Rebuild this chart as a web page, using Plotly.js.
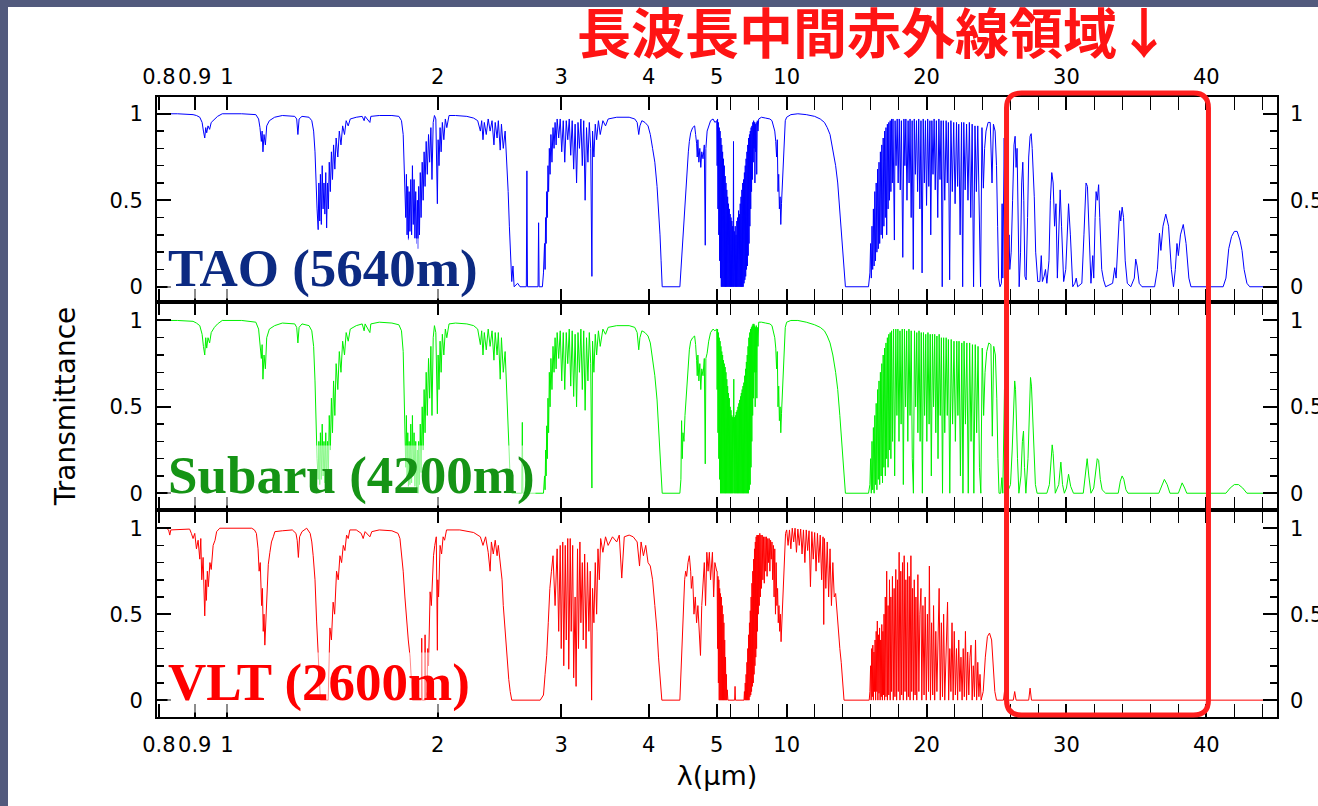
<!DOCTYPE html>
<html><head><meta charset="utf-8">
<script src="https://cdn.plot.ly/plotly-3.0.1.min.js"></script>
<style>
html,body{margin:0;padding:0;background:#525a7d;overflow:hidden;}
#chart{position:absolute;left:8px;top:7px;width:1310px;height:799px;background:#fff;}
</style></head><body><div id="chart"></div>
<script>
// ---- data: [wavelength (um), transmittance] ----
const tao = [[0.795,1.0],[0.85,1.0],[0.895,0.995],[0.905,0.99],[0.915,0.98],[0.922,0.95],[0.926,0.9],[0.93,0.86],[0.933,0.92],[0.936,0.89],[0.94,0.93],[0.945,0.91],[0.95,0.95],[0.96,0.97],[0.97,0.985],[0.985,1.0],[1.05,1.0],[1.10,0.995],[1.11,0.97],[1.115,0.92],[1.12,0.84],[1.123,0.9],[1.126,0.78],[1.13,0.88],[1.135,0.82],[1.14,0.93],[1.15,0.96],[1.17,0.98],[1.2,0.99],[1.25,0.985],[1.258,0.97],[1.263,0.88],[1.268,0.97],[1.28,0.985],[1.31,0.98],[1.322,0.96],[1.33,0.9],[1.336,0.78],[1.34,0.6],[1.345,0.45],[1.35,0.33],[1.353,0.6],[1.357,0.38],[1.36,0.65],[1.364,0.36],[1.368,0.7],[1.372,0.45],[1.376,0.6],[1.38,0.42],[1.384,0.66],[1.388,0.34],[1.392,0.6],[1.396,0.45],[1.4,0.72],[1.405,0.55],[1.41,0.78],[1.415,0.62],[1.42,0.82],[1.426,0.68],[1.432,0.86],[1.44,0.75],[1.447,0.9],[1.455,0.82],[1.463,0.93],[1.472,0.88],[1.48,0.96],[1.49,0.93],[1.5,0.97],[1.53,0.98],[1.56,0.985],[1.57,0.96],[1.575,0.985],[1.6,0.95],[1.605,0.985],[1.65,0.99],[1.72,0.99],[1.76,0.985],[1.775,0.96],[1.785,0.88],[1.79,0.75],[1.795,0.55],[1.8,0.4],[1.804,0.65],[1.808,0.3],[1.812,0.58],[1.816,0.27],[1.82,0.55],[1.825,0.32],[1.83,0.62],[1.835,0.3],[1.84,0.7],[1.845,0.36],[1.85,0.62],[1.855,0.28],[1.86,0.55],[1.865,0.25],[1.87,0.5],[1.874,0.22],[1.878,0.58],[1.883,0.3],[1.888,0.66],[1.893,0.4],[1.9,0.72],[1.906,0.5],[1.912,0.78],[1.918,0.58],[1.925,0.84],[1.932,0.65],[1.94,0.88],[1.947,0.72],[1.955,0.92],[1.962,0.62],[1.97,0.95],[1.978,0.99],[1.987,0.97],[1.992,0.75],[1.997,0.48],[2.002,0.85],[2.008,0.7],[2.015,0.92],[2.022,0.78],[2.03,0.95],[2.04,0.85],[2.05,0.97],[2.06,0.92],[2.075,0.99],[2.12,0.99],[2.2,0.985],[2.25,0.975],[2.28,0.96],[2.3,0.9],[2.31,0.96],[2.32,0.85],[2.33,0.95],[2.345,0.88],[2.36,0.97],[2.375,0.9],[2.39,0.96],[2.405,0.82],[2.415,0.95],[2.43,0.86],[2.44,0.96],[2.455,0.79],[2.465,0.94],[2.48,0.8],[2.495,0.9],[2.51,0.72],[2.52,0.55],[2.53,0.35],[2.54,0.15],[2.55,0.03],[2.56,0.12],[2.57,0.0],[2.6,0.02],[2.62,0.0],[2.675,0.0],[2.68,0.67],[2.685,0.0],[2.78,0.0],[2.785,0.37],[2.79,0.0],[2.82,0.0],[2.83,0.08],[2.84,0.25],[2.845,0.1],[2.85,0.4],[2.855,0.25],[2.86,0.55],[2.866,0.4],[2.872,0.7],[2.878,0.55],[2.885,0.8],[2.892,0.65],[2.9,0.88],[2.91,0.72],[2.92,0.92],[2.93,0.8],[2.94,0.95],[2.95,0.82],[2.96,0.97],[2.975,0.86],[2.99,0.97],[3.005,0.78],[3.02,0.96],[3.035,0.72],[3.05,0.96],[3.065,0.85],[3.08,0.97],[3.095,0.76],[3.11,0.96],[3.125,0.68],[3.14,0.94],[3.155,0.6],[3.17,0.95],[3.185,0.8],[3.2,0.97],[3.215,0.7],[3.23,0.96],[3.245,0.5],[3.26,0.92],[3.275,0.72],[3.29,0.95],[3.305,0.8],[3.318,0.06],[3.325,0.9],[3.34,0.75],[3.355,0.94],[3.37,0.85],[3.39,0.96],[3.41,0.88],[3.44,0.96],[3.47,0.93],[3.5,0.97],[3.6,0.98],[3.75,0.98],[3.82,0.97],[3.85,0.95],[3.87,0.88],[3.885,0.93],[3.91,0.96],[3.95,0.95],[3.99,0.93],[4.02,0.88],[4.05,0.8],[4.08,0.72],[4.11,0.58],[4.13,0.45],[4.15,0.3],[4.165,0.15],[4.18,0.0],[4.43,0.0],[4.445,0.1],[4.455,0.17],[4.47,0.26],[4.485,0.33],[4.5,0.45],[4.51,0.54],[4.525,0.62],[4.54,0.72],[4.555,0.78],[4.57,0.84],[4.59,0.89],[4.62,0.92],[4.65,0.93],[4.665,0.88],[4.68,0.83],[4.69,0.75],[4.7,0.85],[4.715,0.72],[4.73,0.8],[4.745,0.69],[4.76,0.78],[4.78,0.74],[4.8,0.82],[4.815,0.24],[4.825,0.8],[4.845,0.9],[4.87,0.93],[4.9,0.96],[4.94,0.97],[4.97,0.95],[5.0,0.96],
[5.03,0.7],[5.06,0.97],[5.09,0.45],[5.12,0.95],[5.15,0.3],[5.18,0.92],[5.21,0.15],[5.24,0.9],[5.27,0.05],[5.3,0.86],[5.33,0.0],[5.36,0.82],[5.39,0.0],[5.42,0.78],[5.45,0.0],[5.48,0.74],[5.51,0.0],[5.54,0.7],[5.57,0.0],[5.6,0.64],[5.63,0.0],[5.66,0.6],[5.69,0.0],[5.72,0.56],[5.75,0.0],[5.78,0.52],[5.81,0.0],[5.84,0.48],[5.87,0.0],[5.9,0.45],[5.93,0.0],[5.96,0.42],[5.99,0.0],[6.02,0.4],[6.05,0.0],[6.08,0.38],[6.11,0.0],[6.14,0.35],[6.17,0.0],[6.2,0.84],[6.22,0.0],[6.26,0.32],[6.29,0.0],[6.32,0.35],[6.35,0.0],[6.38,0.3],[6.41,0.0],[6.44,0.38],[6.47,0.0],[6.5,0.4],[6.53,0.0],[6.56,0.44],[6.59,0.0],[6.62,0.42],[6.65,0.0],[6.68,0.48],[6.71,0.0],[6.74,0.52],[6.77,0.0],[6.8,0.56],[6.83,0.0],[6.86,0.6],[6.89,0.0],[6.92,0.62],[6.95,0.02],[6.98,0.66],[7.01,0.04],[7.04,0.7],[7.07,0.06],[7.1,0.74],[7.13,0.1],[7.16,0.78],[7.19,0.12],[7.22,0.82],[7.25,0.18],[7.28,0.86],[7.31,0.25],[7.34,0.88],[7.37,0.35],[7.4,0.9],[7.43,0.45],[7.46,0.92],[7.49,0.55],[7.52,0.93],[7.55,0.62],[7.58,0.95],[7.61,0.72],[7.64,0.96],[7.67,0.8],[7.7,0.95],[7.73,0.6],[7.76,0.94],[7.79,0.78],[7.82,0.95],[7.86,0.65],[7.9,0.96],[7.95,0.9],[8.0,0.97],[8.2,0.98],[8.5,0.975],[8.8,0.97],[8.95,0.96],[9.05,0.93],[9.15,0.9],[9.22,0.84],[9.28,0.75],[9.33,0.85],[9.38,0.55],[9.43,0.65],[9.48,0.45],[9.53,0.52],[9.58,0.36],[9.63,0.48],[9.68,0.58],[9.73,0.7],[9.78,0.82],[9.84,0.9],[9.9,0.96],[10.0,0.98],[10.3,0.995],[10.8,1.0],[11.4,0.995],[12.0,0.985],[12.4,0.97],[12.7,0.95],[12.9,0.92],[13.1,0.88],[13.3,0.8],[13.5,0.7],[13.65,0.6],[13.8,0.45],[13.95,0.3],[14.1,0.1],[14.2,0.0],[15.85,0.0],
[15.95,0.08],[16.0,0.25],[16.05,0.05],[16.1,0.35],[16.15,0.1],[16.2,0.45],[16.25,0.12],[16.3,0.55],[16.35,0.15],[16.4,0.6],[16.45,0.2],[16.5,0.68],[16.55,0.22],[16.6,0.72],[16.65,0.25],[16.7,0.78],[16.75,0.3],[16.8,0.82],[16.85,0.28],[16.9,0.86],[16.95,0.35],[17.0,0.9],[17.05,0.4],[17.1,0.92],[17.15,0.3],[17.2,0.94],[17.25,0.45],[17.3,0.95],[17.35,0.5],[17.4,0.96],[17.45,0.55],[17.5,0.97],[17.55,0.6],[17.6,0.97],[17.7,0.27],[17.75,0.96],[17.82,0.7],[17.9,0.97],[17.97,0.6],[18.05,0.97],[18.12,0.56],[18.2,0.96],[18.3,0.17],[18.38,0.97],[18.45,0.7],[18.52,0.97],[18.6,0.5],[18.68,0.96],[18.75,0.6],[18.82,0.97],[18.9,0.4],[18.97,0.96],[19.05,0.1],[19.12,0.97],[19.2,0.65],[19.28,0.96],[19.36,0.55],[19.44,0.97],[19.52,0.45],[19.6,0.96],[19.68,0.08],[19.76,0.97],[19.84,0.6],[19.92,0.96],[20.0,0.47],[20.08,0.97],[20.16,0.58],[20.24,0.96],[20.3,0.3],[20.38,0.96],[20.46,0.65],[20.54,0.97],[20.62,0.56],[20.7,0.96],[20.8,0.4],[20.88,0.97],[20.96,0.62],[21.04,0.96],[21.12,0.0],[21.2,0.96],[21.3,0.5],[21.4,0.96],[21.48,0.6],[21.56,0.95],[21.65,0.04],[21.74,0.96],[21.84,0.55],[21.94,0.95],[22.04,0.48],[22.14,0.95],[22.22,0.58],[22.3,0.94],[22.4,0.3],[22.5,0.95],[22.58,0.0],[22.66,0.95],[22.76,0.56],[22.86,0.94],[22.96,0.5],[23.06,0.95],[23.16,0.4],[23.26,0.94],[23.36,0.0],[23.46,0.93],[23.56,0.55],[23.66,0.93],[23.76,0.3],[23.86,0.0],[23.96,0.92],[24.06,0.57],[24.15,0.8],[24.25,0.9],[24.4,0.95],[24.55,0.95],[24.68,0.6],[24.78,0.94],[24.9,0.9],[25.0,0.7],[25.08,0.35],[25.15,0.05],[25.25,0.0],
[25.35,0.02],[25.4,0.48],[25.45,0.05],[25.55,0.86],[25.6,0.4],[25.65,0.1],[25.75,0.0],[25.85,0.15],[25.9,0.3],[25.95,0.1],[26.05,0.2],[26.15,0.5],[26.25,0.82],[26.33,0.87],[26.4,0.69],[26.47,0.8],[26.55,0.3],[26.62,0.0],[26.72,0.2],[26.8,0.6],[26.88,0.72],[26.95,0.5],[27.03,0.06],[27.12,0.04],[27.22,0.4],[27.3,0.75],[27.4,0.87],[27.48,0.885],[27.55,0.8],[27.62,0.69],[27.7,0.52],[27.8,0.2],[27.95,0.03],[28.1,0.03],[28.2,0.18],[28.28,0.03],[28.4,0.06],[28.5,0.1],[28.6,0.02],[28.75,0.15],[28.85,0.5],[28.95,0.66],[29.05,0.6],[29.15,0.35],[29.25,0.48],[29.35,0.05],[29.45,0.3],[29.55,0.56],[29.65,0.35],[29.8,0.03],[29.95,0.1],[30.05,0.35],[30.15,0.48],[30.28,0.3],[30.45,0.0],[30.6,0.02],[30.7,0.05],[30.8,0.0],[31.1,0.02],[31.25,0.3],[31.4,0.6],[31.5,0.58],[31.62,0.3],[31.75,0.02],[31.88,0.18],[31.95,0.05],[32.05,0.4],[32.12,0.55],[32.2,0.5],[32.3,0.59],[32.38,0.4],[32.45,0.18],[32.52,0.1],[32.65,0.04],[32.8,0.0],[33.3,0.02],[33.45,0.11],[33.55,0.05],[33.7,0.3],[33.8,0.44],[33.88,0.38],[33.98,0.46],[34.08,0.4],[34.2,0.15],[34.35,0.02],[34.6,0.0],[34.85,0.05],[34.95,0.16],[35.05,0.12],[35.2,0.02],[35.4,0.0],[36.3,0.0],[36.5,0.1],[36.65,0.31],[36.75,0.21],[36.9,0.35],[37.1,0.42],[37.3,0.35],[37.5,0.1],[37.65,0.0],[37.78,0.1],[37.9,0.25],[38.0,0.18],[38.15,0.3],[38.35,0.36],[38.55,0.25],[38.75,0.05],[38.9,0.0],[41.2,0.0],[41.4,0.05],[41.6,0.22],[41.8,0.29],[42.0,0.32],[42.2,0.32],[42.4,0.27],[42.55,0.21],[42.7,0.1],[42.9,0.02],[43.1,0.0],[45.1,0.0]];

const subaru = [[0.795,1.0],[0.85,1.0],[0.895,0.995],[0.905,0.985],[0.915,0.97],[0.922,0.92],[0.926,0.85],[0.93,0.8],[0.933,0.9],[0.936,0.84],[0.94,0.9],[0.945,0.87],[0.95,0.93],[0.96,0.96],[0.97,0.98],[0.985,1.0],[1.05,1.0],[1.10,0.99],[1.11,0.95],[1.115,0.88],[1.12,0.78],[1.123,0.86],[1.126,0.66],[1.13,0.8],[1.135,0.72],[1.14,0.9],[1.15,0.95],[1.17,0.97],[1.2,0.985],[1.25,0.98],[1.258,0.96],[1.263,0.87],[1.268,0.96],[1.28,0.98],[1.31,0.97],[1.322,0.94],[1.33,0.85],[1.336,0.65],[1.34,0.4],[1.345,0.2],[1.35,0.08],[1.353,0.3],[1.357,0.05],[1.36,0.35],[1.364,0.08],[1.368,0.4],[1.372,0.1],[1.376,0.3],[1.38,0.06],[1.384,0.35],[1.388,0.05],[1.392,0.3],[1.396,0.12],[1.4,0.45],[1.405,0.25],[1.41,0.55],[1.415,0.35],[1.42,0.65],[1.426,0.45],[1.432,0.75],[1.44,0.6],[1.447,0.82],[1.455,0.7],[1.463,0.88],[1.472,0.8],[1.48,0.93],[1.49,0.88],[1.5,0.95],[1.53,0.97],[1.56,0.98],[1.57,0.94],[1.575,0.98],[1.6,0.93],[1.605,0.98],[1.65,0.99],[1.72,0.985],[1.76,0.975],[1.775,0.94],[1.785,0.82],[1.79,0.6],[1.795,0.35],[1.8,0.15],[1.804,0.45],[1.808,0.08],[1.812,0.35],[1.816,0.04],[1.82,0.3],[1.825,0.05],[1.83,0.4],[1.835,0.06],[1.84,0.45],[1.845,0.1],[1.85,0.35],[1.855,0.04],[1.86,0.3],[1.865,0.02],[1.87,0.25],[1.874,0.0],[1.878,0.3],[1.883,0.05],[1.888,0.4],[1.893,0.12],[1.9,0.5],[1.906,0.25],[1.912,0.6],[1.918,0.35],[1.925,0.7],[1.932,0.45],[1.94,0.78],[1.947,0.55],[1.955,0.85],[1.962,0.45],[1.97,0.9],[1.978,0.97],[1.987,0.93],[1.992,0.65],[1.997,0.46],[2.002,0.8],[2.008,0.6],[2.015,0.88],[2.022,0.7],[2.03,0.92],[2.04,0.8],[2.05,0.95],[2.06,0.9],[2.075,0.98],[2.12,0.985],[2.2,0.98],[2.25,0.97],[2.28,0.95],[2.3,0.86],[2.31,0.94],[2.32,0.8],[2.33,0.93],[2.345,0.83],[2.36,0.95],[2.375,0.85],[2.39,0.94],[2.405,0.77],[2.415,0.93],[2.43,0.8],[2.44,0.93],[2.455,0.66],[2.465,0.9],[2.48,0.7],[2.495,0.82],[2.51,0.55],[2.52,0.35],[2.53,0.15],[2.54,0.03],[2.55,0.0],[2.635,0.0],[2.64,0.41],[2.645,0.0],[2.83,0.0],[2.84,0.1],[2.845,0.02],[2.85,0.25],[2.855,0.1],[2.86,0.39],[2.866,0.2],[2.872,0.55],[2.878,0.35],[2.885,0.7],[2.892,0.5],[2.9,0.78],[2.91,0.6],[2.92,0.85],[2.93,0.7],[2.94,0.9],[2.95,0.72],[2.96,0.93],[2.975,0.78],[2.99,0.94],[3.005,0.65],[3.02,0.93],[3.035,0.6],[3.05,0.93],[3.065,0.75],[3.08,0.95],[3.095,0.62],[3.11,0.94],[3.125,0.56],[3.14,0.92],[3.155,0.5],[3.17,0.93],[3.185,0.7],[3.2,0.95],[3.215,0.6],[3.23,0.94],[3.245,0.48],[3.26,0.9],[3.275,0.65],[3.29,0.93],[3.305,0.75],[3.318,0.03],[3.325,0.88],[3.34,0.7],[3.355,0.92],[3.37,0.8],[3.39,0.94],[3.41,0.85],[3.44,0.95],[3.47,0.92],[3.5,0.96],[3.6,0.97],[3.75,0.97],[3.82,0.96],[3.85,0.93],[3.87,0.83],[3.885,0.9],[3.91,0.94],[3.95,0.93],[3.99,0.91],[4.02,0.87],[4.05,0.78],[4.08,0.68],[4.11,0.54],[4.13,0.4],[4.15,0.25],[4.165,0.1],[4.18,0.0],[4.43,0.0],[4.445,0.08],[4.455,0.42],[4.465,0.2],[4.475,0.35],[4.49,0.3],[4.505,0.45],[4.52,0.55],[4.535,0.65],[4.55,0.75],[4.57,0.83],[4.59,0.88],[4.62,0.9],[4.65,0.91],[4.665,0.86],[4.68,0.77],[4.69,0.68],[4.7,0.8],[4.715,0.65],[4.73,0.75],[4.745,0.6],[4.76,0.72],[4.78,0.68],[4.8,0.78],[4.815,0.17],[4.825,0.78],[4.845,0.81],[4.87,0.88],[4.9,0.93],[4.94,0.95],[4.97,0.94],[5.0,0.95],
[5.03,0.6],[5.06,0.95],[5.09,0.35],[5.12,0.93],[5.15,0.2],[5.18,0.9],[5.21,0.08],[5.24,0.88],[5.27,0.0],[5.3,0.85],[5.33,0.0],[5.36,0.82],[5.39,0.0],[5.42,0.8],[5.45,0.0],[5.48,0.77],[5.51,0.0],[5.54,0.75],[5.57,0.0],[5.6,0.73],[5.63,0.0],[5.66,0.7],[5.69,0.0],[5.72,0.66],[5.75,0.0],[5.78,0.62],[5.81,0.0],[5.84,0.58],[5.87,0.0],[5.9,0.55],[5.93,0.0],[5.96,0.5],[5.99,0.0],[6.02,0.48],[6.05,0.0],[6.08,0.45],[6.11,0.0],[6.14,0.44],[6.17,0.0],[6.22,0.66],[6.25,0.0],[6.28,0.44],[6.31,0.0],[6.34,0.45],[6.37,0.0],[6.4,0.47],[6.43,0.0],[6.46,0.48],[6.49,0.0],[6.52,0.5],[6.55,0.0],[6.58,0.52],[6.61,0.0],[6.64,0.54],[6.67,0.0],[6.7,0.56],[6.73,0.0],[6.76,0.58],[6.79,0.0],[6.82,0.6],[6.85,0.0],[6.88,0.62],[6.91,0.0],[6.94,0.64],[6.97,0.0],[7.0,0.68],[7.03,0.0],[7.06,0.72],[7.09,0.0],[7.12,0.76],[7.15,0.0],[7.18,0.8],[7.21,0.0],[7.24,0.85],[7.27,0.0],[7.3,0.9],[7.33,0.02],[7.36,0.93],[7.39,0.05],[7.42,0.95],[7.45,0.15],[7.48,0.96],[7.51,0.3],[7.54,0.97],[7.57,0.45],[7.6,0.98],[7.63,0.55],[7.66,0.98],[7.69,0.7],[7.72,0.97],[7.75,0.5],[7.78,0.96],[7.81,0.7],[7.84,0.97],[7.87,0.55],[7.9,0.96],[7.95,0.85],[8.0,0.99],[8.2,0.99],[8.5,0.985],[8.8,0.98],[8.95,0.97],[9.05,0.94],[9.15,0.9],[9.22,0.84],[9.28,0.72],[9.33,0.82],[9.38,0.5],[9.43,0.62],[9.48,0.42],[9.53,0.5],[9.58,0.35],[9.63,0.46],[9.68,0.56],[9.73,0.68],[9.78,0.8],[9.84,0.9],[9.9,0.96],[10.0,0.99],[10.3,1.0],[10.8,1.0],[11.4,0.99],[12.0,0.975],[12.4,0.96],[12.7,0.94],[12.9,0.91],[13.1,0.87],[13.3,0.8],[13.5,0.7],[13.65,0.6],[13.8,0.45],[13.95,0.3],[14.1,0.1],[14.2,0.0],[15.85,0.0],
[15.95,0.05],[16.0,0.2],[16.05,0.0],[16.1,0.3],[16.15,0.02],[16.2,0.38],[16.25,0.0],[16.3,0.45],[16.35,0.05],[16.4,0.52],[16.45,0.02],[16.5,0.6],[16.55,0.08],[16.6,0.65],[16.65,0.05],[16.7,0.7],[16.75,0.1],[16.8,0.75],[16.85,0.06],[16.9,0.8],[16.95,0.15],[17.0,0.84],[17.05,0.1],[17.1,0.87],[17.15,0.2],[17.2,0.9],[17.25,0.15],[17.3,0.92],[17.35,0.25],[17.4,0.93],[17.45,0.2],[17.5,0.94],[17.57,0.3],[17.64,0.95],[17.72,0.1],[17.8,0.95],[17.88,0.45],[17.95,0.95],[18.03,0.3],[18.1,0.94],[18.18,0.4],[18.26,0.95],[18.34,0.05],[18.42,0.95],[18.5,0.5],[18.58,0.94],[18.66,0.3],[18.74,0.95],[18.82,0.45],[18.9,0.94],[18.98,0.2],[19.06,0.0],[19.14,0.94],[19.22,0.5],[19.3,0.93],[19.38,0.35],[19.46,0.94],[19.54,0.3],[19.62,0.93],[19.7,0.0],[19.78,0.93],[19.86,0.45],[19.94,0.92],[20.02,0.3],[20.1,0.93],[20.18,0.4],[20.26,0.92],[20.34,0.1],[20.42,0.92],[20.5,0.5],[20.58,0.92],[20.66,0.35],[20.74,0.91],[20.82,0.2],[20.9,0.92],[20.98,0.45],[21.06,0.9],[21.14,0.0],[21.22,0.9],[21.3,0.35],[21.4,0.9],[21.48,0.45],[21.56,0.89],[21.66,0.0],[21.76,0.89],[21.86,0.4],[21.96,0.88],[22.06,0.3],[22.16,0.88],[22.24,0.45],[22.32,0.88],[22.42,0.1],[22.52,0.87],[22.6,0.0],[22.68,0.88],[22.78,0.4],[22.88,0.87],[22.98,0.0],[23.08,0.87],[23.18,0.3],[23.28,0.86],[23.38,0.0],[23.48,0.86],[23.58,0.35],[23.68,0.85],[23.78,0.15],[23.88,0.0],[23.98,0.84],[24.08,0.45],[24.18,0.7],[24.3,0.82],[24.45,0.87],[24.6,0.86],[24.7,0.33],[24.8,0.85],[24.92,0.8],[25.02,0.55],[25.1,0.2],[25.18,0.0],
[25.3,0.0],[25.38,0.09],[25.45,0.0],[25.52,0.5],[25.57,0.6],[25.62,0.3],[25.68,0.0],[25.85,0.02],[26.0,0.05],[26.12,0.25],[26.22,0.5],[26.3,0.65],[26.36,0.6],[26.42,0.39],[26.5,0.2],[26.6,0.0],[26.75,0.1],[26.85,0.3],[26.93,0.36],[27.0,0.15],[27.1,0.0],[27.25,0.2],[27.35,0.55],[27.43,0.67],[27.5,0.62],[27.58,0.48],[27.66,0.3],[27.78,0.05],[27.9,0.0],[28.6,0.0],[28.78,0.05],[28.9,0.2],[28.98,0.28],[29.05,0.23],[29.12,0.09],[29.2,0.0],[29.45,0.05],[29.6,0.18],[29.72,0.05],[29.85,0.0],[30.0,0.03],[30.15,0.11],[30.3,0.04],[30.5,0.0],[31.2,0.0],[31.35,0.12],[31.48,0.2],[31.6,0.1],[31.75,0.0],[31.95,0.03],[32.1,0.15],[32.2,0.2],[32.3,0.19],[32.42,0.08],[32.55,0.02],[32.8,0.0],[33.7,0.0],[33.85,0.07],[33.98,0.1],[34.1,0.08],[34.25,0.02],[34.4,0.0],[36.6,0.0],[36.8,0.04],[37.0,0.08],[37.2,0.05],[37.4,0.0],[38.0,0.0],[38.15,0.03],[38.27,0.06],[38.45,0.03],[38.6,0.0],[41.4,0.0],[41.7,0.03],[42.0,0.05],[42.3,0.05],[42.6,0.03],[42.9,0.0],[45.1,0.0]];

const vlt = [[0.795,1.0],[0.82,1.0],[0.826,0.99],[0.829,0.96],[0.832,0.99],[0.885,0.995],[0.89,0.97],[0.895,0.94],[0.9,0.97],[0.905,0.88],[0.91,0.93],[0.915,0.82],[0.918,0.94],[0.921,0.7],[0.925,0.83],[0.928,0.6],[0.93,0.49],[0.933,0.7],[0.935,0.58],[0.938,0.75],[0.941,0.66],[0.946,0.8],[0.95,0.76],[0.956,0.9],[0.962,0.93],[0.967,0.98],[0.977,1.0],[1.085,1.0],[1.095,0.99],[1.102,0.97],[1.108,0.88],[1.112,0.75],[1.116,0.8],[1.121,0.55],[1.124,0.65],[1.127,0.4],[1.13,0.5],[1.133,0.32],[1.136,0.45],[1.139,0.6],[1.142,0.7],[1.146,0.79],[1.152,0.86],[1.158,0.92],[1.165,0.95],[1.171,0.98],[1.2,0.985],[1.24,0.99],[1.255,0.97],[1.26,0.93],[1.265,0.83],[1.27,0.95],[1.28,0.98],[1.3,1.0],[1.315,0.97],[1.322,0.92],[1.328,0.84],[1.336,0.7],[1.343,0.46],[1.35,0.26],[1.355,0.05],[1.36,0.0],[1.395,0.0],[1.4,0.25],[1.403,0.42],[1.41,0.35],[1.418,0.57],[1.425,0.5],[1.434,0.75],[1.442,0.7],[1.45,0.84],[1.458,0.8],[1.466,0.9],[1.474,0.87],[1.482,0.96],[1.49,0.94],[1.498,0.99],[1.53,0.99],[1.555,0.97],[1.565,0.94],[1.575,0.98],[1.6,0.95],[1.61,0.98],[1.65,0.99],[1.72,0.985],[1.755,0.97],[1.766,0.94],[1.775,0.85],[1.785,0.75],[1.795,0.6],[1.804,0.46],[1.815,0.35],[1.826,0.25],[1.835,0.1],[1.84,0.0],[1.895,0.0],[1.897,0.36],[1.9,0.0],[1.916,0.0],[1.918,0.38],[1.921,0.0],[1.93,0.05],[1.935,0.3],[1.94,0.2],[1.945,0.5],[1.95,0.63],[1.958,0.55],[1.965,0.75],[1.972,0.84],[1.98,0.9],[1.99,0.95],[1.994,0.6],[1.997,0.29],[2.0,0.7],[2.005,0.6],[2.015,0.9],[2.025,0.85],[2.035,0.95],[2.045,0.93],[2.058,0.99],[2.15,0.99],[2.25,0.975],[2.3,0.95],[2.32,0.9],[2.34,0.95],[2.36,0.86],[2.375,0.75],[2.385,0.92],[2.4,0.85],[2.415,0.93],[2.43,0.84],[2.44,0.9],[2.455,0.8],[2.47,0.7],[2.48,0.55],[2.495,0.4],[2.51,0.28],[2.525,0.12],[2.537,0.05],[2.55,0.0],[2.8,0.0],[2.83,0.03],[2.845,0.15],[2.86,0.26],[2.875,0.45],[2.89,0.65],[2.905,0.75],[2.92,0.84],[2.94,0.55],[2.96,0.88],[2.975,0.4],[2.99,0.9],[3.0,0.3],[3.015,0.92],[3.025,0.2],[3.04,0.9],[3.05,0.35],[3.065,0.94],[3.075,0.18],[3.09,0.94],[3.1,0.4],[3.115,0.9],[3.125,0.13],[3.14,0.6],[3.15,0.08],[3.165,0.88],[3.175,0.3],[3.19,0.92],[3.2,0.45],[3.215,0.8],[3.225,0.35],[3.24,0.85],[3.255,0.3],[3.27,0.8],[3.285,0.4],[3.3,0.75],[3.315,0.0],[3.325,0.65],[3.34,0.45],[3.355,0.8],[3.37,0.5],[3.385,0.88],[3.4,0.7],[3.415,0.94],[3.44,0.86],[3.47,0.95],[3.5,0.9],[3.55,0.95],[3.6,0.92],[3.63,0.96],[3.66,0.71],[3.69,0.95],[3.75,0.96],[3.8,0.95],[3.85,0.92],[3.88,0.78],[3.9,0.92],[3.93,0.84],[3.96,0.9],[3.99,0.8],[4.02,0.78],[4.05,0.7],[4.08,0.55],[4.11,0.4],[4.13,0.25],[4.155,0.09],[4.175,0.0],[4.43,0.0],[4.445,0.15],[4.455,0.32],[4.47,0.45],[4.485,0.58],[4.5,0.7],[4.515,0.75],[4.53,0.72],[4.55,0.8],[4.57,0.84],[4.59,0.75],[4.6,0.65],[4.62,0.72],[4.64,0.5],[4.66,0.6],[4.68,0.45],[4.7,0.55],[4.72,0.4],[4.74,0.26],[4.76,0.55],[4.78,0.7],[4.8,0.8],[4.82,0.55],[4.84,0.86],[4.86,0.75],[4.88,0.86],[4.9,0.7],[4.93,0.86],[4.95,0.6],[4.97,0.8],[5.0,0.75],
[5.03,0.75],[5.06,0.3],[5.09,0.72],[5.12,0.1],[5.15,0.7],[5.18,0.0],[5.21,0.65],[5.24,0.0],[5.27,0.62],[5.3,0.0],[5.33,0.6],[5.36,0.0],[5.39,0.55],[5.42,0.0],[5.45,0.5],[5.48,0.0],[5.51,0.45],[5.54,0.0],[5.57,0.35],[5.6,0.0],[5.63,0.25],[5.66,0.0],[5.69,0.15],[5.72,0.0],[5.75,0.06],[5.8,0.0],[6.28,0.0],[6.31,0.08],[6.34,0.0],[6.95,0.0],[6.98,0.05],[7.01,0.0],[7.04,0.1],[7.07,0.0],[7.1,0.15],[7.13,0.0],[7.16,0.22],[7.19,0.0],[7.22,0.3],[7.25,0.0],[7.28,0.38],[7.31,0.0],[7.34,0.45],[7.37,0.02],[7.4,0.52],[7.43,0.03],[7.46,0.6],[7.49,0.05],[7.52,0.68],[7.55,0.08],[7.58,0.75],[7.61,0.1],[7.64,0.82],[7.67,0.15],[7.7,0.88],[7.73,0.2],[7.76,0.92],[7.79,0.25],[7.82,0.95],[7.85,0.3],[7.88,0.96],[7.91,0.4],[7.94,0.96],[7.97,0.5],[8.0,0.96],[8.04,0.55],[8.08,0.97],[8.12,0.6],[8.16,0.96],[8.2,0.65],[8.25,0.96],[8.3,0.7],[8.35,0.95],[8.4,0.68],[8.45,0.95],[8.5,0.75],[8.55,0.95],[8.6,0.72],[8.65,0.94],[8.7,0.8],[8.75,0.94],[8.8,0.75],[8.85,0.93],[8.9,0.82],[8.95,0.92],[9.0,0.7],[9.05,0.9],[9.1,0.6],[9.15,0.88],[9.2,0.5],[9.25,0.8],[9.3,0.55],[9.35,0.65],[9.4,0.45],[9.45,0.55],[9.5,0.4],[9.55,0.5],[9.6,0.34],[9.65,0.45],[9.7,0.55],[9.75,0.7],[9.8,0.82],[9.85,0.92],[9.92,0.97],[10.0,0.99],
[10.1,0.9],[10.2,0.99],[10.3,0.88],[10.4,1.0],[10.5,0.92],[10.6,1.0],[10.7,0.86],[10.8,0.995],[10.9,0.9],[11.0,0.995],[11.1,0.85],[11.2,0.99],[11.3,0.8],[11.4,0.99],[11.5,0.87],[11.6,0.985],[11.7,0.66],[11.8,0.98],[11.9,0.82],[12.0,0.975],[12.1,0.75],[12.2,0.97],[12.3,0.8],[12.4,0.96],[12.5,0.7],[12.6,0.95],[12.65,0.44],[12.7,0.94],[12.8,0.65],[12.9,0.92],[13.0,0.6],[13.1,0.88],[13.2,0.55],[13.3,0.8],[13.4,0.6],[13.5,0.62],[13.6,0.5],[13.7,0.4],[13.8,0.3],[13.9,0.22],[14.0,0.1],[14.1,0.0],[15.9,0.0],
[15.95,0.05],[16.0,0.2],[16.04,0.0],[16.08,0.3],[16.12,0.02],[16.16,0.32],[16.2,0.0],[16.24,0.28],[16.28,0.05],[16.32,0.35],[16.36,0.0],[16.4,0.4],[16.44,0.05],[16.48,0.46],[16.52,0.0],[16.56,0.38],[16.6,0.04],[16.64,0.42],[16.68,0.0],[16.72,0.35],[16.76,0.02],[16.8,0.44],[16.84,0.0],[16.88,0.4],[16.92,0.03],[16.96,0.5],[17.0,0.0],[17.05,0.6],[17.1,0.02],[17.15,0.75],[17.2,0.0],[17.25,0.55],[17.3,0.03],[17.35,0.7],[17.4,0.0],[17.45,0.6],[17.5,0.05],[17.56,0.72],[17.62,0.0],[17.68,0.65],[17.74,0.02],[17.8,0.76],[17.86,0.0],[17.92,0.7],[17.98,0.05],[18.04,0.86],[18.1,0.0],[18.16,0.75],[18.22,0.03],[18.28,0.8],[18.34,0.0],[18.4,0.84],[18.46,0.05],[18.52,0.7],[18.58,0.0],[18.64,0.8],[18.7,0.02],[18.76,0.72],[18.82,0.0],[18.88,0.84],[18.94,0.05],[19.0,0.65],[19.06,0.0],[19.12,0.7],[19.18,0.03],[19.24,0.6],[19.3,0.0],[19.38,0.73],[19.45,0.05],[19.52,0.5],[19.6,0.65],[19.66,0.0],[19.74,0.55],[19.82,0.03],[19.9,0.6],[19.98,0.0],[20.06,0.5],[20.14,0.05],[20.2,0.78],[20.28,0.0],[20.36,0.45],[20.44,0.03],[20.5,0.55],[20.58,0.0],[20.66,0.4],[20.74,0.05],[20.82,0.5],[20.9,0.65],[20.98,0.0],[21.06,0.45],[21.14,0.02],[21.22,0.5],[21.3,0.0],[21.4,0.35],[21.5,0.57],[21.58,0.0],[21.66,0.3],[21.74,0.05],[21.82,0.45],[21.9,0.0],[21.98,0.4],[22.06,0.03],[22.14,0.3],[22.22,0.0],[22.3,0.35],[22.38,0.05],[22.46,0.25],[22.54,0.0],[22.62,0.3],[22.7,0.02],[22.78,0.4],[22.86,0.0],[22.94,0.28],[23.02,0.03],[23.1,0.25],[23.18,0.32],[23.26,0.0],[23.34,0.2],[23.42,0.02],[23.5,0.35],[23.58,0.0],[23.66,0.22],[23.74,0.02],[23.82,0.15],[23.9,0.0],[24.05,0.05],[24.2,0.25],[24.35,0.37],[24.5,0.39],[24.65,0.35],[24.78,0.2],[24.88,0.05],[25.0,0.0],
[25.5,0.0],[25.57,0.05],[25.64,0.0],[26.2,0.0],[26.3,0.05],[26.4,0.0],[27.3,0.0],[27.4,0.07],[27.5,0.0],[45.1,0.0]];

// ---- axis labels ----
const xMajorTicks = [0.8, 0.9, 1, 2, 3, 4, 5, 10, 20, 30, 40];
const xMajorLabels = ['0.8', '0.9', '1', '2', '3', '4', '5', '10', '20', '30', '40'];
const xMinorTicks = [6, 8, 12, 14, 16, 18, 22, 24, 26, 28, 32, 34, 36, 38, 42, 44];
const yMajorTicks = [0, 0.5, 1];
const yMajorLabels = ['0', '0.5', '1'];
const yMinorTicks = [0.1, 0.2, 0.3, 0.4, 0.6, 0.7, 0.8, 0.9];
const panelNames = ['TAO (5640m)', 'Subaru (4200m)', 'VLT (2600m)'];
const titleText = '長波長中間赤外線領域↓';

// piecewise axis: logarithmic below 5 um, linear above (as in the reference)
function xmap(l) { return l <= 5 ? Math.log10(l) : Math.log10(5) + (l - 5) * 0.01996; }
const XR = [xmap(0.795), xmap(45.05)];

const series = [tao, subaru, vlt];
const colors = ['#0000ff', '#00f000', '#ff0000'];
const yax = ['y', 'y2', 'y3'];
const traces = [];
series.forEach((s, i) => {
  traces.push({
    x: s.map(p => xmap(p[0])), y: s.map(p => p[1]),
    xaxis: 'x', yaxis: yax[i], mode: 'lines', type: 'scatter',
    line: {color: colors[i], width: 1}, hoverinfo: 'skip', showlegend: false
  });
});
// invisible copies so that the label-only overlay axes exist
[['x2', 'y'], ['x', 'y4'], ['x', 'y5'], ['x', 'y6']].forEach((ax, i) => {
  const s = series[Math.max(0, i - 1)];
  traces.push({x: s.map(p => xmap(p[0])), y: s.map(p => p[1]), xaxis: ax[0], yaxis: ax[1],
    mode: 'lines', opacity: 0, hoverinfo: 'skip', showlegend: false, line: {width: 1}});
});

const tickFont = {family: 'DejaVu Sans', size: 21, color: '#000'};
const xTickVals = xMajorTicks.map(xmap);
function yAxis(domain, range, extra) {
  return Object.assign({
    domain: domain, range: range, anchor: 'x', showline: true, linecolor: '#000', linewidth: 2,
    mirror: 'ticks', ticks: 'inside', ticklen: 14, tickwidth: 2, tickcolor: '#000',
    tickmode: 'array', tickvals: yMajorTicks, ticktext: yMajorLabels, tickfont: tickFont,
    ticklabelstandoff: 8, showgrid: false, zeroline: false, fixedrange: true,
    minor: {tickmode: 'array', tickvals: yMinorTicks, ticks: 'inside', ticklen: 7, tickwidth: 1.5, tickcolor: '#000', showgrid: false}
  }, extra || {});
}
function yLabelAxis(over, range) {
  return {overlaying: over, side: 'right', anchor: 'x', range: range, showline: false, ticks: '',
    tickmode: 'array', tickvals: yMajorTicks, ticktext: yMajorLabels, tickfont: tickFont,
    ticklabelstandoff: 12, showgrid: false, zeroline: false, fixedrange: true};
}
const D1 = [0.6694, 1], D2 = [0.3339, 0.6694], D3 = [0, 0.3339];
const R1 = [-0.088, 1.097], R2 = [-0.097, 1.107], R3 = [-0.098, 1.106];

// rounded red box (paper coordinates)
const bx0 = 0.7585, bx1 = 0.9388, by0 = 0.0032, by1 = 1.0065, rx = 0.0134, ry = 0.0242;
const boxPath = `M${bx0+rx},${by1} L${bx1-rx},${by1} Q${bx1},${by1} ${bx1},${by1-ry} L${bx1},${by0+ry} Q${bx1},${by0} ${bx1-rx},${by0} L${bx0+rx},${by0} Q${bx0},${by0} ${bx0},${by0+ry} L${bx0},${by1-ry} Q${bx0},${by1} ${bx0+rx},${by1} Z`;

const labelColors = ['#0c2a82', '#159415', '#ff0000'];
const annotations = panelNames.map((t, i) => ({
  text: t, xref: 'paper', yref: yax[i], x: 0.0085, y: 0.105, xanchor: 'left', yanchor: 'middle',
  showarrow: false, bgcolor: 'rgba(255,255,255,0.55)', borderpad: 0,
  font: {family: 'Liberation Serif', size: 53, weight: 700, color: labelColors[i]}
}));
annotations.push({
  text: titleText, xref: 'paper', yref: 'paper', x: 0.6405, y: 1.108, xanchor: 'center', yanchor: 'middle',
  showarrow: false, borderpad: 0, font: {family: 'Noto Sans CJK JP', size: 54, weight: 700, color: '#ff1414'}
});

const layout = {
  width: 1310, height: 799, margin: {l: 149, r: 41, t: 90, b: 89, pad: 0},
  paper_bgcolor: '#ffffff', plot_bgcolor: '#ffffff', showlegend: false,
  xaxis: {range: XR, anchor: 'y3', showline: true, linecolor: '#000', linewidth: 1.6, mirror: 'allticks',
    ticks: 'inside', ticklen: 13, tickwidth: 2, tickcolor: '#000', tickmode: 'array',
    tickvals: xTickVals, ticktext: xMajorLabels, tickfont: tickFont, ticklabelstandoff: 8,
    showgrid: false, zeroline: false, fixedrange: true,
    minor: {tickmode: 'array', tickvals: xMinorTicks.map(xmap), ticks: 'inside', ticklen: 6, tickwidth: 1.5, tickcolor: '#000', showgrid: false},
    title: {text: 'λ(μm)', font: {family: 'DejaVu Sans', size: 27, color: '#000'}, standoff: 10}},
  xaxis2: {range: XR, overlaying: 'x', anchor: 'y', side: 'top', showline: false, ticks: '',
    tickmode: 'array', tickvals: xTickVals, ticktext: xMajorLabels, tickfont: tickFont, ticklabelstandoff: 8,
    showgrid: false, zeroline: false, fixedrange: true},
  yaxis: yAxis(D1, R1),
  yaxis2: yAxis(D2, R2, {title: {text: 'Transmittance', font: {family: 'DejaVu Sans', size: 28, color: '#000'}, standoff: 26}}),
  yaxis3: yAxis(D3, R3),
  yaxis4: yLabelAxis('y', R1),
  yaxis5: yLabelAxis('y2', R2),
  yaxis6: yLabelAxis('y3', R3),
  shapes: [{type: 'path', xref: 'paper', yref: 'paper', path: boxPath, line: {color: '#ff1e1e', width: 5}, layer: 'above'}],
  annotations: annotations
};
Plotly.newPlot('chart', traces, layout, {staticPlot: true, displayModeBar: false});
</script></body></html>
